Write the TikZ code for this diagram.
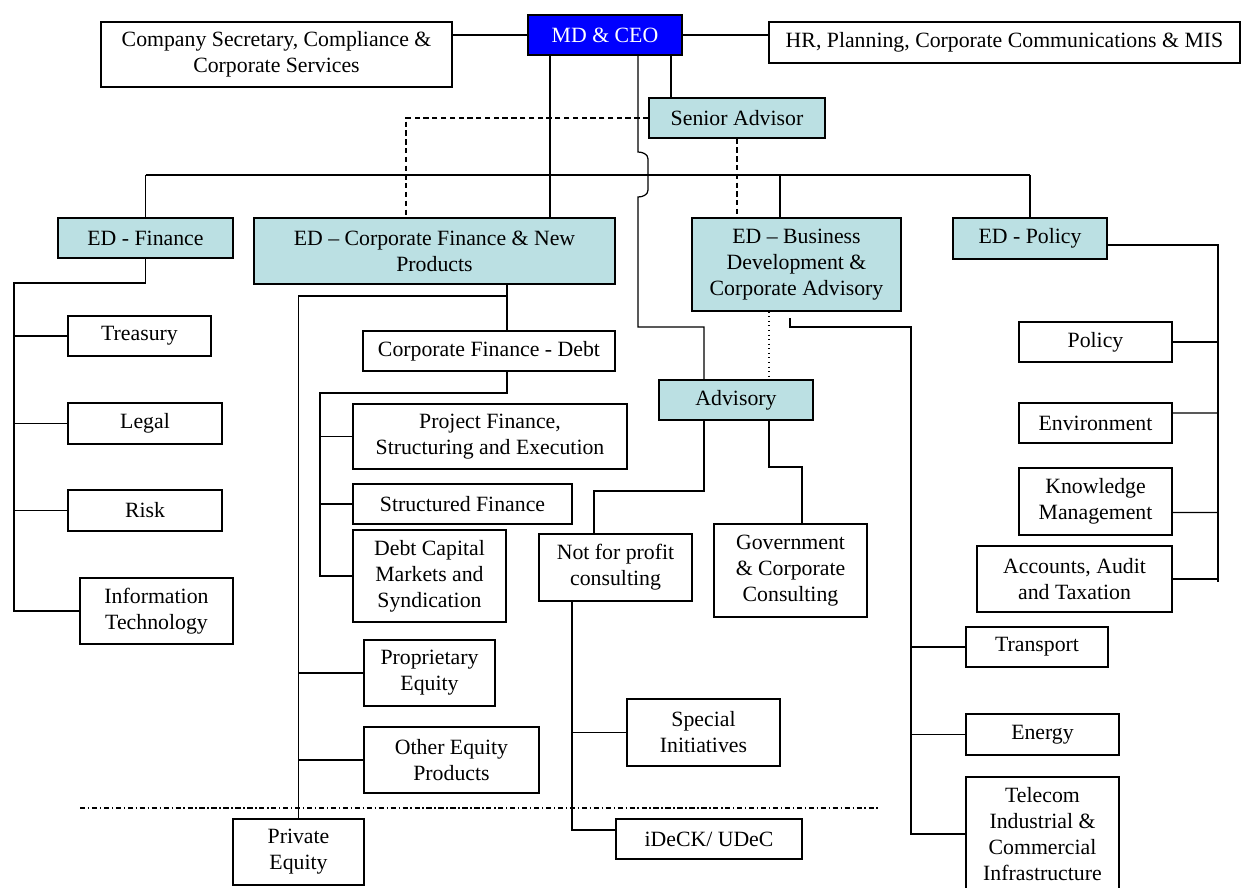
\documentclass[tikz,border=0pt]{standalone}
\usepackage{fontspec}
\setmainfont{Liberation Serif}
\usepackage{tikz}
\usetikzlibrary{calc}
\definecolor{ceoblue}{HTML}{0000FF}
\definecolor{edcyan}{HTML}{BBE0E3}
\tikzset{
  unit/.style={draw=black, line width=0.8pt, fill=white, align=center, inner sep=1pt,
    font=\fontsize{12.4}{14.8}\selectfont},
  head/.style={unit, fill=edcyan},
  chief/.style={unit, fill=ceoblue, text=white},
  link/.style={draw=black, line width=0.7pt},
  dashedlink/.style={link, dash pattern=on 3pt off 2pt},
  dottedlink/.style={draw=black, line width=0.6pt, dotted},
  cutline/.style={draw=black, line width=0.7pt, dash pattern=on 3pt off 1.5pt on 0.8pt off 1.5pt},
}

\begin{document}
\begin{tikzpicture}[x=0.02cm,y=-0.02cm]
  \useasboundingbox (0,0) rectangle (1241,887);

  % top level
  \node[chief, minimum width=3.08cm, minimum height=0.80cm] (ceo) at (605,35) {MD \& CEO};
  \node[unit, minimum width=7.02cm, minimum height=1.30cm] (cosec) at (276.5,54.5) {Company Secretary, Compliance \&\\Corporate Services};
  \node[unit, minimum width=9.42cm, minimum height=0.82cm] (hr) at (1004.5,42.5) {HR, Planning, Corporate Communications \& MIS};
  \node[head, minimum width=3.52cm, minimum height=0.80cm] (senior) at (737,118) {Senior Advisor};

  % executive directors
  \node[head, minimum width=3.50cm, minimum height=0.80cm] (edfin) at (145.5,238) {ED - Finance};
  \node[head, minimum width=7.22cm, minimum height=1.32cm] (edcf) at (434.5,251) {ED -- Corporate Finance \& New\\Products};
  \node[head, minimum width=4.18cm, minimum height=1.86cm] (edbd) at (796.5,264.5) {ED -- Business\\Development \&\\Corporate Advisory};
  \node[head, minimum width=3.08cm, minimum height=0.82cm] (edpol) at (1030,238.5) {ED - Policy};

  % finance
  \node[unit, minimum width=2.86cm, minimum height=0.80cm] (treasury) at (139.5,336) {Treasury};
  \node[unit, minimum width=3.08cm, minimum height=0.82cm] (legal) at (145,423.5) {Legal};
  \node[unit, minimum width=3.08cm, minimum height=0.82cm] (risk) at (145,510.5) {Risk};
  \node[unit, minimum width=3.06cm, minimum height=1.32cm] (infotech) at (156.5,611) {Information\\Technology};

  % corporate finance
  \node[unit, minimum width=5.04cm, minimum height=0.80cm] (cfdebt) at (489,351) {Corporate Finance - Debt};
  \node[unit, minimum width=5.48cm, minimum height=1.30cm] (projfin) at (490,436.5) {Project Finance,\\Structuring and Execution};
  \node[unit, minimum width=4.38cm, minimum height=0.80cm] (structfin) at (462.5,504) {Structured Finance};
  \node[unit, minimum width=3.06cm, minimum height=1.84cm] (dcm) at (429.5,576) {Debt Capital\\Markets and\\Syndication};
  \node[unit, minimum width=2.62cm, minimum height=1.32cm] (propeq) at (429.5,673) {Proprietary\\Equity};
  \node[unit, minimum width=3.50cm, minimum height=1.32cm] (othereq) at (451.5,760) {Other Equity\\Products};
  \node[unit, minimum width=2.62cm, minimum height=1.32cm] (priveq) at (298.5,852) {Private\\Equity};

  % advisory
  \node[head, minimum width=3.08cm, minimum height=0.80cm] (advisory) at (736,400) {Advisory};
  \node[unit, minimum width=3.06cm, minimum height=1.34cm] (nfp) at (615.5,567.5) {Not for profit\\consulting};
  \node[unit, minimum width=3.06cm, minimum height=1.86cm] (govt) at (790.5,570.5) {Government\\\& Corporate\\Consulting};
  \node[unit, minimum width=3.06cm, minimum height=1.34cm] (special) at (703.5,732.5) {Special\\Initiatives};
  \node[unit, minimum width=3.72cm, minimum height=0.80cm] (ideck) at (709,839) {iDeCK/ UDeC};

  % policy
  \node[unit, minimum width=3.06cm, minimum height=0.80cm] (policy) at (1095.5,342) {Policy};
  \node[unit, minimum width=3.06cm, minimum height=0.80cm] (environ) at (1095.5,423) {Environment};
  \node[unit, minimum width=3.06cm, minimum height=1.34cm] (knowmgmt) at (1095.5,501.5) {Knowledge\\Management};
  \node[unit, minimum width=3.90cm, minimum height=1.32cm] (accounts) at (1074.5,579) {Accounts, Audit\\and Taxation};

  % infrastructure
  \node[unit, minimum width=2.84cm, minimum height=0.80cm] (transport) at (1037,647) {Transport};
  \node[unit, minimum width=3.06cm, minimum height=0.82cm] (energy) at (1042.5,734.5) {Energy};
  \node[unit, minimum width=3.06cm, minimum height=2.28cm] (telecom) at (1042.5,834) {Telecom\\Industrial \&\\Commercial\\Infrastructure};

  % junction points
  \coordinate (bus) at (0,175);
  \coordinate (cftrunk) at (550,0);
  \coordinate (bdtap) at (780,175);
  \coordinate (sentap) at (671,0);
  \coordinate (advtap) at (704,327);
  \coordinate (cfdash) at (406,0);
  \coordinate (bdadv) at (769,0);
  \coordinate (finrail) at (14,283);
  \coordinate (cftap) at (507,296);
  \coordinate (debtrail) at (320,393);
  \coordinate (nfptap) at (594,491);
  \coordinate (govtap) at (802,467);
  \coordinate (nfprail) at (572,0);
  \coordinate (infra) at (911,327);
  \coordinate (polrail) at (1218,0);
  \coordinate (cutL) at (80,808);
  \coordinate (cutR) at (880,808);

  % top links
  \draw[link] (ceo.west) -- (ceo.west -| cosec.east);
  \draw[link] (ceo.east) -- (ceo.east -| hr.west);
  \draw[link] (cftrunk |- ceo.south) -- (cftrunk |- edcf.north);
  \draw[link] (sentap |- ceo.south) -- (sentap |- senior.north);
  \draw[link] (edfin.north |- bus) -- (edpol.north |- bus);
  \draw[link] (edfin.north |- bus) -- (edfin.north);
  \draw[link] (bdtap) -- (bdtap |- edbd.north);
  \draw[link] (edpol.north |- bus) -- (edpol.north);
  \draw[link] (638,55) -- (638,152) to[out=0,in=90] (648,159) -- (648,190)
    to[out=-90,in=0] (638,197) |- (advtap) -- (advtap |- advisory.north);
  \draw[dashedlink] (senior.west) -| (cfdash |- edcf.north);
  \draw[dashedlink] (senior.south) -- (senior.south |- edbd.north);

  % finance
  \draw[link] (edfin.south) |- (finrail) -- (finrail |- infotech.west) -- (infotech.west);
  \draw[link] (finrail |- treasury.west) -- (treasury.west);
  \draw[link] (finrail |- legal.west) -- (legal.west);
  \draw[link] (finrail |- risk.west) -- (risk.west);

  % corporate finance
  \draw[link] (cftap |- edcf.south) -- (cftap |- cfdebt.north);
  \draw[link] (cftap) -| (priveq.north);
  \draw[link] (priveq.north |- propeq.west) -- (propeq.west);
  \draw[link] (priveq.north |- othereq.west) -- (othereq.west);
  \draw[link] (cftap |- cfdebt.south) |- (debtrail) -- (debtrail |- dcm.west) -- (dcm.west);
  \draw[link] (debtrail |- projfin.west) -- (projfin.west);
  \draw[link] (debtrail |- structfin.west) -- (structfin.west);

  % business development and advisory
  \draw[dottedlink] (bdadv |- edbd.south) -- (bdadv |- advisory.north);
  \draw[link] (790,318) |- (infra) -- (infra |- telecom.west) -- (telecom.west);
  \draw[link] (infra |- transport.west) -- (transport.west);
  \draw[link] (infra |- energy.west) -- (energy.west);
  \draw[link] (advtap |- advisory.south) |- (nfptap) -- (nfptap |- nfp.north);
  \draw[link] (bdadv |- advisory.south) |- (govtap) -- (govtap |- govt.north);
  \draw[link] (nfprail |- nfp.south) |- ([yshift=0.18cm]ideck.west);
  \draw[link] (nfprail |- special.west) -- (special.west);

  % policy
  \draw[link] ([yshift=-0.13cm]edpol.east) -| (polrail |- 0,582);
  \draw[link] (policy.east) -- (polrail |- policy.east);
  \draw[link] ([yshift=0.2cm]environ.east) -- (polrail |- 0,413);
  \draw[link] ([yshift=-0.22cm]knowmgmt.east) -- (polrail |- 0,512.5);
  \draw[link] (accounts.east) -- (polrail |- accounts.east);

  % cut-off line
  \draw[cutline] (cutL) -- (cutR);
\end{tikzpicture}
\end{document}
